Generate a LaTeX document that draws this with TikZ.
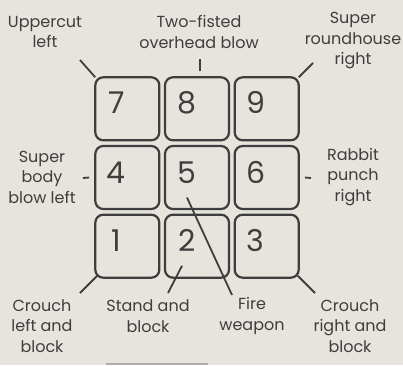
\documentclass[tikz,border=0pt]{standalone}
\usepackage{fontspec}
\setmainfont{Poppins}
\usepackage{tikz}
\usetikzlibrary{positioning}
\definecolor{paper}{RGB}{231,228,221}
\definecolor{ink}{RGB}{62,62,62}
\definecolor{smudge}{RGB}{176,172,166}

\begin{document}
\begin{tikzpicture}[x=1pt, y=1pt,
        key/.style={rectangle, rounded corners=8pt, draw=ink, line width=2.2pt, minimum width=64pt, minimum height=63pt, inner sep=0pt},
        keynum/.style={text=ink, font=\fontsize{30}{30}\selectfont, inner sep=0pt},
        caption/.style={text=ink, align=center, inner sep=0pt, font=\fontsize{16}{20.5}\selectfont},
        tick/.style={draw=ink, line width=1.8pt}]

        % page
        \fill[paper] (0,0) rectangle (403,365);
        \useasboundingbox (0,0) rectangle (403,365);
        \fill[smudge] (106,0) rectangle (208,2);

        % Keypad
        \node[key] (k5) at (197,187.5) {};
        \node[key, left=3.5pt of k5] (k4) {};
        \node[key, right=3.5pt of k5] (k6) {};
        \node[key, above=3.5pt of k5] (k8) {};
        \node[key, left=3.5pt of k8] (k7) {};
        \node[key, right=3.5pt of k8] (k9) {};
        \node[key, below=3.5pt of k5] (k2) {};
        \node[key, left=3.5pt of k2] (k1) {};
        \node[key, right=3.5pt of k2] (k3) {};

        % Digits
        \node[keynum] (n7) at ([xshift=-11pt, yshift=6pt]k7.center) {7};
        \node[keynum] (n8) at ([xshift=-10pt, yshift=6pt]k8.center) {8};
        \node[keynum] (n9) at ([xshift=-11pt, yshift=6pt]k9.center) {9};
        \node[keynum] (n4) at ([xshift=-11pt, yshift=5pt]k4.center) {4};
        \node[keynum] (n5) at ([xshift=-10pt, yshift=5pt]k5.center) {5};
        \node[keynum] (n6) at ([xshift=-11pt, yshift=5pt]k6.center) {6};
        \node[keynum] (n1) at ([xshift=-11pt, yshift=6pt]k1.center) {1};
        \node[keynum] (n2) at ([xshift=-10pt, yshift=6pt]k2.center) {2};
        \node[keynum] (n3) at ([xshift=-11pt, yshift=6pt]k3.center) {3};

        % Moves
        \node[caption] (upper) at (45,333) {Uppercut\\left};
        \node[caption] (overhead) at (199,333) {Two-fisted\\overhead blow};
        \node[caption] (round) at (353,324) {Super\\roundhouse\\right};
        \node[caption] (body) at (42,188) {Super\\body\\blow left};
        \node[caption] (rabbit) at (353,188) {Rabbit\\punch\\right};
        \node[caption] (crouchl) at (42,39) {Crouch\\left and\\block};
        \node[caption] (stand) at (148,49) {Stand and\\block};
        \node[caption] (fire) at (252,49) {Fire\\weapon};
        \node[caption] (crouchr) at (350,39) {Crouch\\right and\\block};

        % Pointer ends
        \coordinate (pul) at (80,305);
        \coordinate (pup) at (200,306);
        \coordinate (pur) at (313,302);
        \coordinate (pbl) at (83,187);
        \coordinate (prr) at (311,187);
        \coordinate (pll) at (80,72);
        \coordinate (pst) at (168,72);
        \coordinate (pfi) at (232,70);
        \coordinate (plr) at (315,72);

        % Pointers
        \draw[tick] ([xshift=1pt, yshift=-1pt]k7.north west) -- (pul);
        \draw[tick] ([xshift=3pt, yshift=5pt]k8.north) -- (pup);
        \draw[tick] ([xshift=-1pt, yshift=-1pt]k9.north east) -- (pur);
        \draw[tick] ([xshift=-5pt]k4.west) -- (pbl);
        \draw[tick] ([xshift=5pt]k6.east) -- (prr);
        \draw[tick] ([xshift=3pt, yshift=3pt]k1.south west) -- (pll);
        \draw[tick] ([xshift=-15pt, yshift=13pt]k2.south) -- (pst);
        \draw[tick] ([yshift=-14pt]n5.south) -- (pfi);
        \draw[tick] ([xshift=-2pt, yshift=3pt]k3.south east) -- (plr);

    \end{tikzpicture}
\end{document}
